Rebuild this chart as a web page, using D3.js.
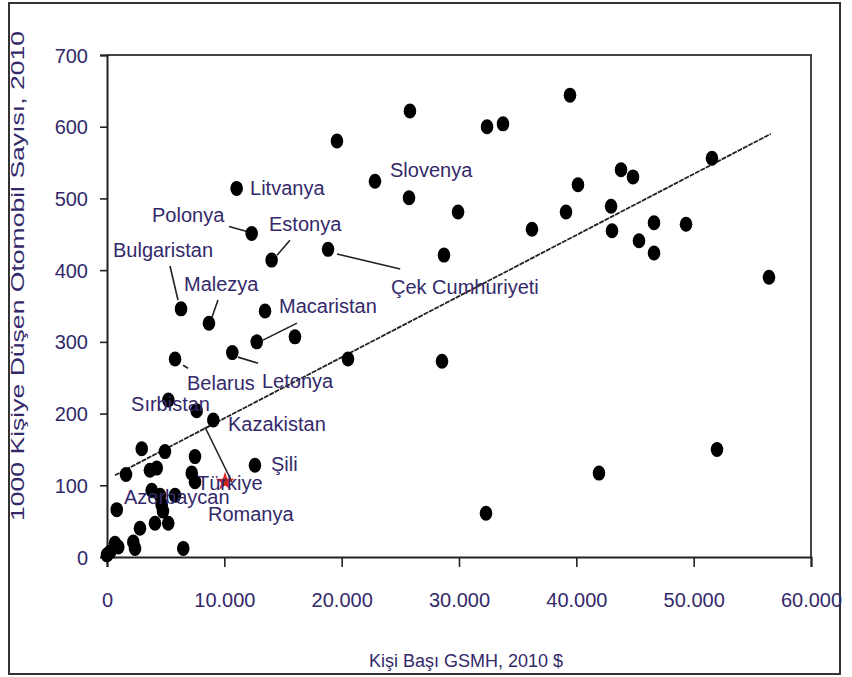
<!DOCTYPE html>
<html><head><meta charset="utf-8">
<script src="https://cdn.jsdelivr.net/npm/d3@7"></script>
<style>
html,body{margin:0;padding:0;background:#fff;}
text{font-family:"Liberation Sans",Arial,sans-serif;}
</style></head>
<body><svg id="chart" width="852" height="677"></svg>
<script>
// GNI per capita (2010 $) and cars per 1000 people
const gniX = [19600,25820,32390,33750,39460,22840,25740,29920,11050,12330,14030,18840,28720,36220,39120,40140,42960,43810,44830,43040,45340,46620,46620,49350,51560,56420,
  20540,28550,32300,41930,51990,
  6310,8690,13470,12760,16020,10680,5800,
  5230,7640,9060,2960,4940,7500,12610,1620,3660,4240,7220,7500,3810,4520,5800,4660,4770,830,4090,5220,2810,2240,680,960,260,6500,2390,0];
const carsY = [580,622,600,604,644,524,501,481,514,451,414,429,421,457,481,519,489,540,530,455,441,466,424,464,556,390,
  276,273,61,117,150,
  346,326,343,300,307,285,276,
  219,204,191,151,147,140,128,115,121,124,117,105,93,86,86,73,64,66,47,47,40,21,19,14,7,12,12,3];
// Türkiye (highlighted)
const turkeyX = [10060];
const turkeyY = [105];
// trend line end points
const trendX = [680, 56570];
const trendY = [114, 590];
// labels: text, left-baseline position in data units
const labelText = ["Litvanya","Slovenya","Polonya","Estonya","Bulgaristan","Çek Cumhuriyeti","Malezya","Macaristan","Belarus","Letonya","Sırbistan","Kazakistan","Şili","Türkiye","Azerbaycan","Romanya"];
const labelX = [12190,24120,3835,13810,510,24200,6560,14660,6820,13210,2050,10310,13980,7670,1450,8610];
const labelY = [505,530,467,455,418,367,371,340,233,236,204,176,120,93,74,50];
// leader lines [x1,y1,x2,y2] in data units
const leaders = [
  [10400,460.8,11930,453.8],
  [15590,441.6,14490,420.7],
  [5370,405.8,6050,358.4],
  [9460,358.4,8950,334.7],
  [13290,302.4,16190,326.1],
  [11160,278.7,12870,270.3],
  [6480,267.4,6910,263.2],
  [19600,422.5,24990,401.6],
  [8350,181.3,10650,104.6]
];
const xTicks = [0,10000,20000,30000,40000,50000,60000];
const xTickLabels = ["0","10.000","20.000","30.000","40.000","50.000","60.000"];
const yTicks = [0,100,200,300,400,500,600,700];

const svg = d3.select("#chart");
const textColor = "#33296a";
svg.append("rect").attr("x",0).attr("y",0).attr("width",852).attr("height",677).attr("fill","#fff");
svg.append("rect").attr("x",9).attr("y",3).attr("width",831).attr("height",671)
  .attr("fill","none").attr("stroke","#333").attr("stroke-width",2);

const x = d3.scaleLinear().domain([0,60000]).range([107,811]);
const y = d3.scaleLinear().domain([0,700]).range([557,55]);

// plot frame (top/right)
svg.append("path").attr("d",`M${x(0)},${y(700)}H${x(60000)}V${y(0)}`)
  .attr("fill","none").attr("stroke","#444").attr("stroke-width",2);

const xAxis = svg.append("g").attr("transform",`translate(0,${y(0)})`)
  .call(d3.axisBottom(x).tickValues(xTicks).tickFormat((d,i)=>xTickLabels[i]).tickSize(10).tickPadding(26));
const yAxis = svg.append("g").attr("transform",`translate(${x(0)},0)`)
  .call(d3.axisLeft(y).tickValues(yTicks).tickSize(7).tickPadding(12));
[xAxis,yAxis].forEach(g=>{
  g.select(".domain").attr("stroke","#222").attr("stroke-width",2);
  g.selectAll(".tick line").attr("stroke","#222").attr("stroke-width",1.6);
  g.selectAll(".tick text").attr("fill",textColor).style("font-size","20px").style("font-family","'Liberation Sans',Arial,sans-serif");
});
yAxis.selectAll(".tick text").attr("dy","0.35em");

// axis titles
svg.append("text").attr("x",466).attr("y",667).attr("text-anchor","middle")
  .attr("fill",textColor).style("font-size","18px").text("Kişi Başı GSMH, 2010 $");
svg.append("text").attr("transform","translate(24,276) rotate(-90)").attr("text-anchor","middle")
  .attr("fill",textColor).style("font-size","18px")
  .attr("textLength",490).attr("lengthAdjust","spacingAndGlyphs")
  .text("1000 Kişiye Düşen Otomobil Sayısı, 2010");

// trend line
svg.append("line").attr("x1",x(trendX[0])).attr("y1",y(trendY[0]))
  .attr("x2",x(trendX[1])).attr("y2",y(trendY[1]))
  .attr("stroke","#222").attr("stroke-width",1.8).attr("stroke-dasharray","5,1");

// leader lines
svg.append("g").selectAll("line").data(leaders).join("line")
  .attr("x1",d=>x(d[0])).attr("y1",d=>y(d[1])).attr("x2",d=>x(d[2])).attr("y2",d=>y(d[3]))
  .attr("stroke","#222").attr("stroke-width",1.6);

// points
svg.append("g").selectAll("ellipse").data(gniX.map((v,i)=>[v,carsY[i]])).join("ellipse")
  .attr("cx",d=>x(d[0])).attr("cy",d=>y(d[1])).attr("rx",6.3).attr("ry",7.5).attr("fill","#000");

// Türkiye
svg.append("g").selectAll("path").data(turkeyX.map((v,i)=>[v,turkeyY[i]])).join("path")
  .attr("transform",d=>`translate(${x(d[0])},${y(d[1])})`)
  .attr("d",d3.symbol(d3.symbolStar,110)).attr("fill","#d8231c");

// labels
svg.append("g").selectAll("text").data(labelText).join("text")
  .attr("x",(d,i)=>x(labelX[i])).attr("y",(d,i)=>y(labelY[i]))
  .attr("fill",textColor).style("font-size","20px").text(d=>d);
</script></body></html>
